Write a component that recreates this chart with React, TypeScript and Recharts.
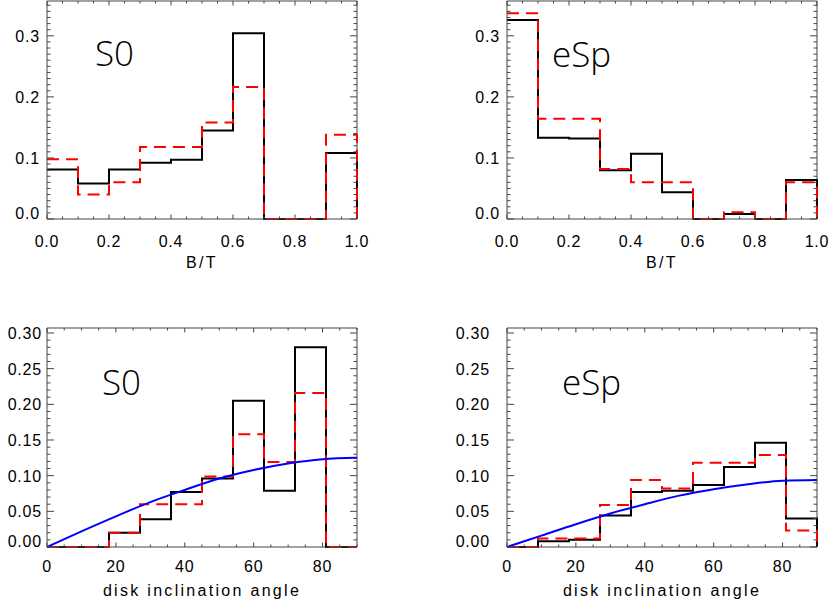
import React from 'react';
import { LineChart, Line, XAxis, YAxis, ReferenceLine } from 'recharts';

// bulge-to-total histograms (bin edges, fractions per bin)
const btEdges = [0, 0.1, 0.2, 0.3, 0.4, 0.5, 0.6, 0.7, 0.8, 0.9, 1.0];
const btS0Black = [0.081, 0.058, 0.081, 0.092, 0.097, 0.145, 0.304, 0, 0, 0.108];
const btS0Red = [0.098, 0.04, 0.06, 0.118, 0.118, 0.158, 0.216, 0, 0, 0.138];
const btESpBlack = [0.326, 0.133, 0.132, 0.08, 0.107, 0.044, 0, 0.008, 0, 0.064];
const btESpRed = [0.337, 0.164, 0.164, 0.082, 0.06, 0.06, 0, 0.011, 0, 0.06];

// disk inclination histograms
const incEdges = [0, 9, 18, 27, 36, 45, 54, 63, 72, 81, 90];
const incS0Black = [0, 0, 0.02, 0.039, 0.077, 0.096, 0.205, 0.079, 0.28, 0];
const incS0Red = [0, 0, 0.02, 0.06, 0.06, 0.099, 0.158, 0.119, 0.216, 0];
const incESpBlack = [0, 0.008, 0.01, 0.044, 0.077, 0.079, 0.087, 0.112, 0.146, 0.04];
const incESpRed = [0, 0.012, 0.012, 0.059, 0.094, 0.082, 0.118, 0.118, 0.129, 0.023];

// expected curve for random orientations
const curveAngles = [0, 10, 20, 30, 40, 50, 60, 70, 80, 90];
const curveS0 = [0, 0.022, 0.043, 0.063, 0.08, 0.096, 0.108, 0.117, 0.123, 0.125];
const curveESp = [0, 0.016, 0.032, 0.047, 0.06, 0.072, 0.081, 0.088, 0.093, 0.094];

// tick labels
const btMajor = [0, 0.2, 0.4, 0.6, 0.8, 1.0];
const incMajor = [0, 20, 40, 60, 80];
const fracTopMajor = [0, 0.1, 0.2, 0.3];
const fracBottomMajor = [0, 0.05, 0.1, 0.15, 0.2, 0.25, 0.3];

const FONT = "'Liberation Sans', Arial, sans-serif";
const AXIS = '#444';

const range = (lo: number, hi: number, step: number) =>
  Array.from({ length: Math.round((hi - lo) / step) + 1 }, (_, i) => +(lo + i * step).toFixed(4));

const steps = (edges: number[], vals: number[]) => [
  ...vals.map((v, i) => ({ x: edges[i], y: v })),
  { x: edges[edges.length - 1], y: vals[vals.length - 1] },
  { x: edges[edges.length - 1], y: 0 },
];

const curve = (xs: number[], ys: number[]) => xs.map((x, i) => ({ x, y: ys[i] }));

const isIn = (list: number[], v: number) => list.some((m) => Math.abs(m - v) < 1e-6);

const XTick = (props: any) => {
  const { x, y, payload, majors, fmt, plotH, labelDy } = props;
  const major = isIn(majors, payload.value);
  const len = major ? 4.5 : 2.5;
  return (
    <g>
      <line x1={x} x2={x} y1={y} y2={y - len} stroke={AXIS} />
      <line x1={x} x2={x} y1={y - plotH} y2={y - plotH + len} stroke={AXIS} />
      {major && (
        <text x={x} y={y + labelDy} textAnchor="middle" fill="#000" fontSize={16} fontFamily={FONT} letterSpacing={0.8}>
          {fmt(payload.value)}
        </text>
      )}
    </g>
  );
};

const YTick = (props: any) => {
  const { x, y, payload, majors, fmt, plotW, gap } = props;
  const major = isIn(majors, payload.value);
  const len = major ? 7 : 3.5;
  return (
    <g>
      <line x1={x} x2={x + len} y1={y} y2={y} stroke={AXIS} />
      <line x1={x + plotW} x2={x + plotW - len} y1={y} y2={y} stroke={AXIS} />
      {major && (
        <text x={x - gap} y={payload.value === 0 ? y : y + 6} textAnchor="end" fill="#000" fontSize={16} fontFamily={FONT} letterSpacing={0.8}>
          {fmt(payload.value)}
        </text>
      )}
    </g>
  );
};

interface PanelProps {
  left: number;
  top: number;
  height: number;
  marginTop: number;
  xAxisHeight: number;
  xMax: number;
  xStep: number;
  xMajor: number[];
  xFmt: (v: number) => string;
  xLabelDy: number;
  xTitle: string;
  xTitleOffset: number;
  yMax: number;
  yTop: number;
  yMajor: number[];
  yFmt: (v: number) => string;
  yGap: number;
  black: { x: number; y: number }[];
  red: { x: number; y: number }[];
  blue?: { x: number; y: number }[];
  name: string;
  nameX: number;
  nameY: number;
}

const YW = 60;
const PLOT_W = 310;
const MR = 18;
const W = YW + PLOT_W + MR;

const Panel = (p: PanelProps) => {
  const plotH = p.height - p.marginTop - p.xAxisHeight;
  return (
    <div style={{ position: 'absolute', left: p.left - YW, top: p.top, width: W, height: p.height }}>
      <LineChart width={W} height={p.height} margin={{ top: p.marginTop, right: MR, bottom: 0, left: 0 }}>
        <XAxis
          type="number"
          dataKey="x"
          domain={[0, p.xMax]}
          ticks={range(0, p.xMax, p.xStep)}
          interval={0}
          height={p.xAxisHeight}
          tickSize={0}
          tickMargin={0}
          tickLine={false}
          axisLine={{ stroke: AXIS }}
          tick={(t: any) => (
            <XTick {...t} majors={p.xMajor} fmt={p.xFmt} plotH={plotH} labelDy={p.xLabelDy} />
          )}
          label={{
            value: p.xTitle,
            position: 'insideBottom',
            offset: p.xTitleOffset,
            fill: '#000',
            fontSize: 16,
            fontFamily: FONT,
            letterSpacing: 2.3,
          }}
        />
        <YAxis
          type="number"
          domain={[0, p.yMax]}
          ticks={range(0, p.yTop, 0.01)}
          interval={0}
          width={YW}
          tickSize={0}
          tickMargin={0}
          tickLine={false}
          axisLine={{ stroke: AXIS }}
          tick={(t: any) => <YTick {...t} majors={p.yMajor} fmt={p.yFmt} plotW={PLOT_W} gap={p.yGap} />}
        />
        <ReferenceLine y={p.yMax} stroke={AXIS} ifOverflow="visible" />
        <ReferenceLine x={p.xMax} stroke={AXIS} ifOverflow="visible" />
        <Line data={p.black} dataKey="y" type="stepAfter" stroke="#000" strokeWidth={2} dot={false} isAnimationActive={false} />
        <Line data={p.red} dataKey="y" type="stepAfter" stroke="#ff0000" strokeWidth={2} strokeDasharray="12 7" dot={false} isAnimationActive={false} />
        {p.blue && (
          <Line data={p.blue} dataKey="y" type="monotone" stroke="#0000ff" strokeWidth={2} dot={false} isAnimationActive={false} />
        )}
      </LineChart>
      <svg width={W} height={p.height} style={{ position: 'absolute', left: 0, top: 0, pointerEvents: 'none' }}>
        <text x={YW + p.nameX} y={p.nameY} fontSize={35} fontFamily="'Open Sans', 'Liberation Sans', sans-serif" fontWeight={300} fill="#000">
          {p.name}
        </text>
      </svg>
    </div>
  );
};

const fmt1 = (v: number) => v.toFixed(1);
const fmt2 = (v: number) => v.toFixed(2);
const fmt0 = (v: number) => v.toFixed(0);

export default function App() {
  const top = {
    top: 0,
    height: 280,
    marginTop: 1,
    xAxisHeight: 61,
    xMax: 1,
    xStep: 0.05,
    xMajor: btMajor,
    xFmt: fmt1,
    xLabelDy: 28,
    xTitle: 'B/T',
    xTitleOffset: 12,
    yMax: 0.357,
    yTop: 0.35,
    yMajor: fracTopMajor,
    yFmt: fmt1,
    yGap: 7,
  };
  const bottom = {
    top: 300,
    height: 303,
    marginTop: 28,
    xAxisHeight: 56,
    xMax: 90,
    xStep: 5,
    xMajor: incMajor,
    xFmt: fmt0,
    xLabelDy: 25,
    xTitle: 'disk inclination angle',
    xTitleOffset: 7,
    yMax: 0.307,
    yTop: 0.3,
    yMajor: fracBottomMajor,
    yFmt: fmt2,
  };
  return (
    <div
      style={{
        position: 'absolute',
        left: 0,
        top: 0,
        width: 830,
        height: 603,
        overflow: 'hidden',
        background: '#fff',
        fontFamily: FONT,
      }}
    >
      {/* left: x position of each panel's plot box */}
      <Panel {...top} left={47} black={steps(btEdges, btS0Black)} red={steps(btEdges, btS0Red)} name="S0" nameX={48} nameY={66} />
      <Panel {...top} left={507} black={steps(btEdges, btESpBlack)} red={steps(btEdges, btESpRed)} name="eSp" nameX={45} nameY={67} />
      <Panel
        {...bottom}
        left={47}
        yGap={5}
        black={steps(incEdges, incS0Black)}
        red={steps(incEdges, incS0Red)}
        blue={curve(curveAngles, curveS0)}
        name="S0"
        nameX={55}
        nameY={95}
      />
      <Panel
        {...bottom}
        left={507}
        yGap={17}
        black={steps(incEdges, incESpBlack)}
        red={steps(incEdges, incESpRed)}
        blue={curve(curveAngles, curveESp)}
        name="eSp"
        nameX={55}
        nameY={95}
      />
    </div>
  );
}
